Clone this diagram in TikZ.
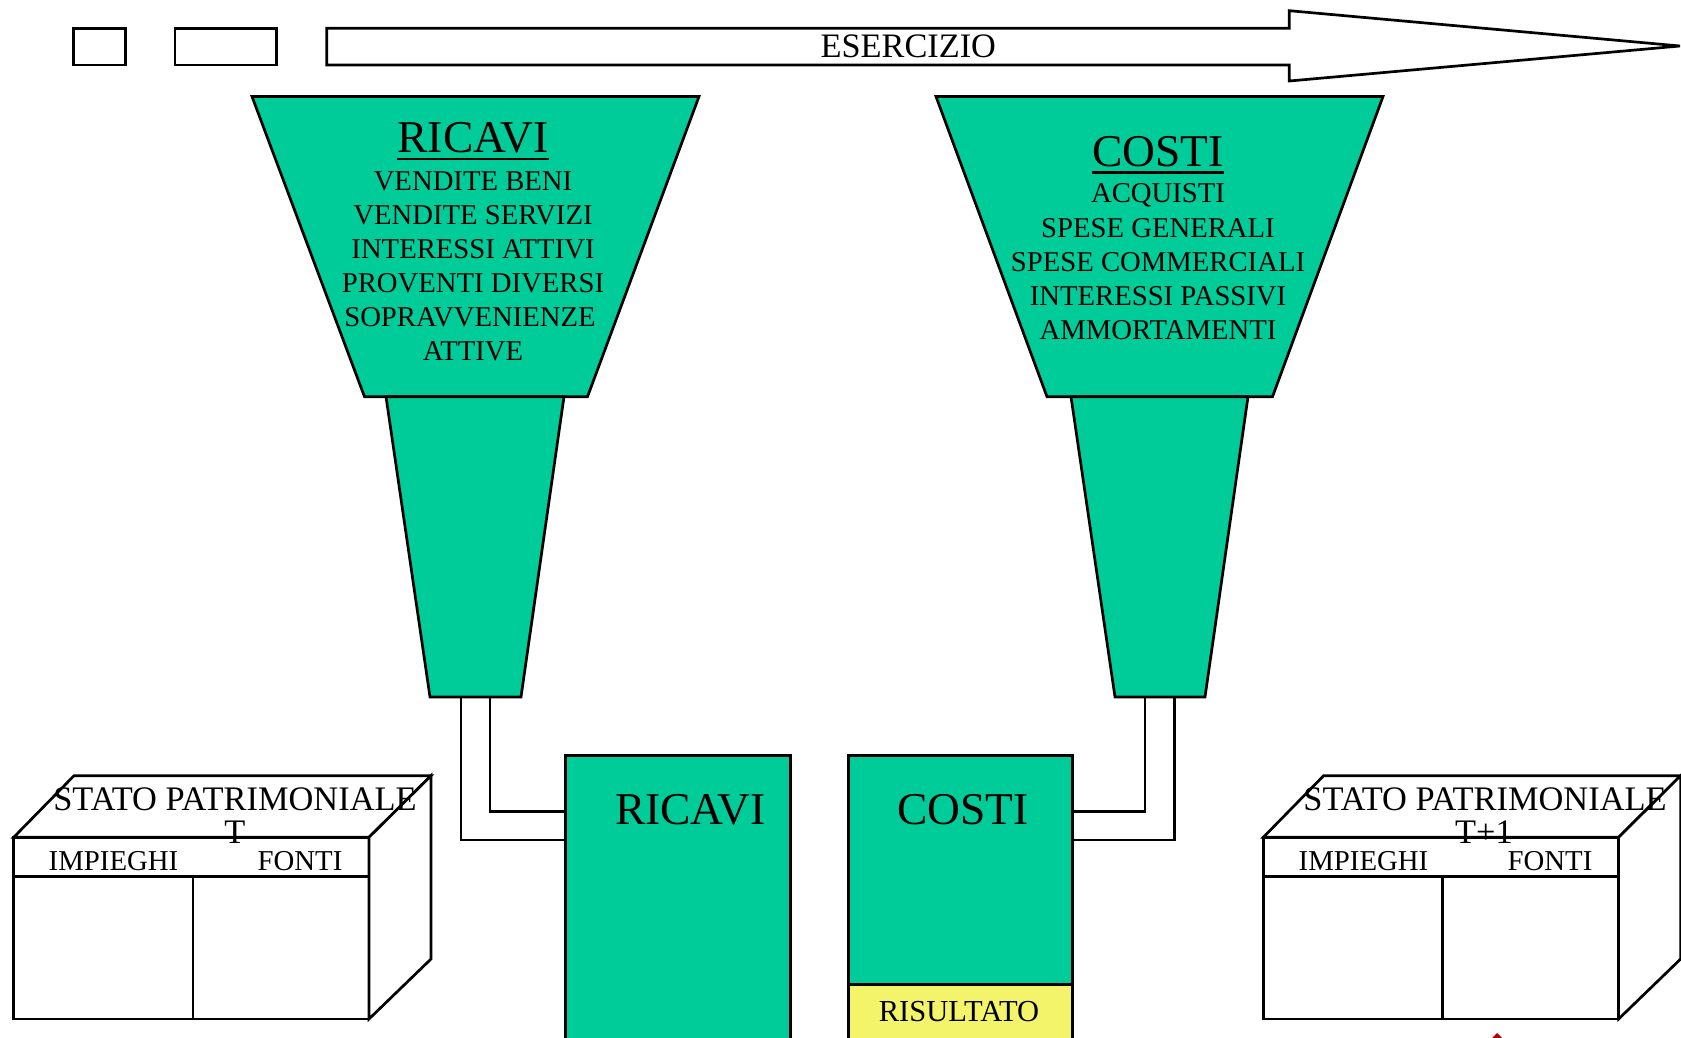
\documentclass[tikz,border=0pt]{standalone}
\usepackage{fontspec}
\setmainfont{Liberation Serif}
\definecolor{tealg}{HTML}{00CC99}
\definecolor{yel}{HTML}{F4F46A}
\begin{document}
\begin{tikzpicture}[x=1pt,y=-1pt,line join=miter,
  ln/.style={line width=2.7pt,draw=black},
  fun/.style={ln,fill=tealg},
  txt/.style={inner sep=0pt,anchor=base},
  ftitle/.style={font=\fontsize{45.5}{50}\selectfont},
  fline/.style={font=\fontsize{28.7}{34}\selectfont},
  fsp/.style={font=\fontsize{34.4}{38}\selectfont},
  fhd/.style={font=\fontsize{28.8}{32}\selectfont},
  uline/.style={line width=2.6pt}]
\useasboundingbox (0,0) rectangle (1681,1038);

% top small boxes and arrow
\draw[ln] (73.3,28.3) rectangle (125.7,65);
\draw[ln] (175,28.3) rectangle (276.7,65);
\draw[ln,fill=white] (326.7,28.3) -- (1289.3,28.3) -- (1289.3,10.7) -- (1680,46)
  -- (1289.3,81) -- (1289.3,65) -- (326.7,65) -- cycle;
\node[txt,font=\fontsize{34.3}{38}\selectfont] (es) at (908.3,57.7) {ESERCIZIO};

% RICAVI funnel
\draw[fun] (252,96.5) -- (699,96.5) -- (587.5,396.7) -- (364.5,396.7) -- cycle;
\draw[fun] (386,396.7) -- (564,396.7) -- (521,697) -- (430,697) -- cycle;
\node[txt,ftitle] (rt) at (473,153) {RICAVI};
\draw[uline] ([yshift=-6pt]rt.base west) -- ([yshift=-6pt]rt.base east);
\foreach \t/\xx [count=\i] in {VENDITE BENI/473,VENDITE SERVIZI/473,INTERESSI ATTIVI/473,PROVENTI DIVERSI/473,SOPRAVVENIENZE/470,ATTIVE/473}
  \node[txt,fline] (rl\i) at (\xx,{190+34*(\i-1)}) {\t};

% COSTI funnel
\draw[fun] (936,96.5) -- (1383,96.5) -- (1272.5,396.7) -- (1047,396.7) -- cycle;
\draw[fun] (1071,396.7) -- (1248,396.7) -- (1205,697) -- (1115,697) -- cycle;
\node[txt,ftitle] (ct) at (1158,166.7) {COSTI};
\draw[uline] ([yshift=-6pt]ct.base west) -- ([yshift=-6pt]ct.base east);
\foreach \t [count=\i] in {ACQUISTI,SPESE GENERALI,SPESE COMMERCIALI,INTERESSI PASSIVI,AMMORTAMENTI}
  \node[txt,fline] (cl\i) at (1158,{202.7+34.3*(\i-1)}) {\t};

% RICAVI and COSTI boxes
\node[ln,fill=tealg,inner sep=0pt,minimum width=225pt,minimum height=320pt,anchor=north west] (rbox) at (564,754) {};
\node[txt,font=\fontsize{45.5}{50}\selectfont] (rboxt) at (690.5,824.3) {RICAVI};
\node[ln,fill=tealg,inner sep=0pt,minimum width=224pt,minimum height=229.3pt,anchor=north west] (cbox) at (847,754) {};
\node[ln,fill=yel,inner sep=0pt,minimum width=224pt,minimum height=80pt,anchor=north west] (ybox) at (847,983.3) {};
\node[txt,font=\fontsize{45.5}{50}\selectfont] (cboxt) at (963,824.3) {COSTI};
\node[txt,font=\fontsize{30.5}{34}\selectfont] (ris) at (959,1021.7) {RISULTATO};

% pipes
\coordinate (rp1) at (461,697); \coordinate (rp2) at (490,697);
\coordinate (rj1) at (564,840); \coordinate (rj2) at (564,811.7);
\draw[ln] (rp1) |- (rj1);
\draw[ln] (rp2) |- (rj2);
\coordinate (cp1) at (1145,697); \coordinate (cp2) at (1174.3,697);
\coordinate (cj1) at (1071,811.7); \coordinate (cj2) at (1071,840);
\draw[ln] (cj1) -| (cp1);
\draw[ln] (cj2) -| (cp2);

% Stato patrimoniale T
\draw[ln,fill=white] (13.7,837.3) rectangle (369,1019);
\draw[ln,fill=white] (13.7,837.3) -- (74,775.7) -- (431,775.7) -- (369,837.3) -- cycle;
\draw[ln,fill=white] (431,775.7) -- (431,959) -- (369,1019) -- (369,837.3) -- cycle;
\draw[ln] (13.7,876.3) -- (369,876.3);
\draw[ln] (193,876.3) -- (193,1019);
\node[txt,fsp] (sp1) at (235,810) {STATO PATRIMONIALE};
\node[txt,fsp] (sp1b) at (235,843) {T};
\node[txt,fhd] (im1) at (113.5,870.7) {IMPIEGHI};
\node[txt,fhd] (fo1) at (300,870.7) {FONTI};

% Stato patrimoniale T+1
\begin{scope}[xshift=1249.6pt]
\draw[ln,fill=white] (13.7,837.3) rectangle (369,1019);
\draw[ln,fill=white] (13.7,837.3) -- (74,775.7) -- (431,775.7) -- (369,837.3) -- cycle;
\draw[ln,fill=white] (431,775.7) -- (431,959) -- (369,1019) -- (369,837.3) -- cycle;
\draw[ln] (13.7,876.3) -- (369,876.3);
\draw[ln] (193,876.3) -- (193,1019);
\end{scope}
\node[txt,fsp] (sp2) at (1485,810) {STATO PATRIMONIALE};
\node[txt,fsp] (sp2b) at (1484,843) {T+1};
\node[txt,fhd] (im2) at (1363.5,870.7) {IMPIEGHI};
\node[txt,fhd] (fo2) at (1550,870.7) {FONTI};

% small red tip at bottom
\fill[red!70!black] (1492,1038) -- (1497,1033) -- (1502,1038) -- cycle;
\end{tikzpicture}
\end{document}
